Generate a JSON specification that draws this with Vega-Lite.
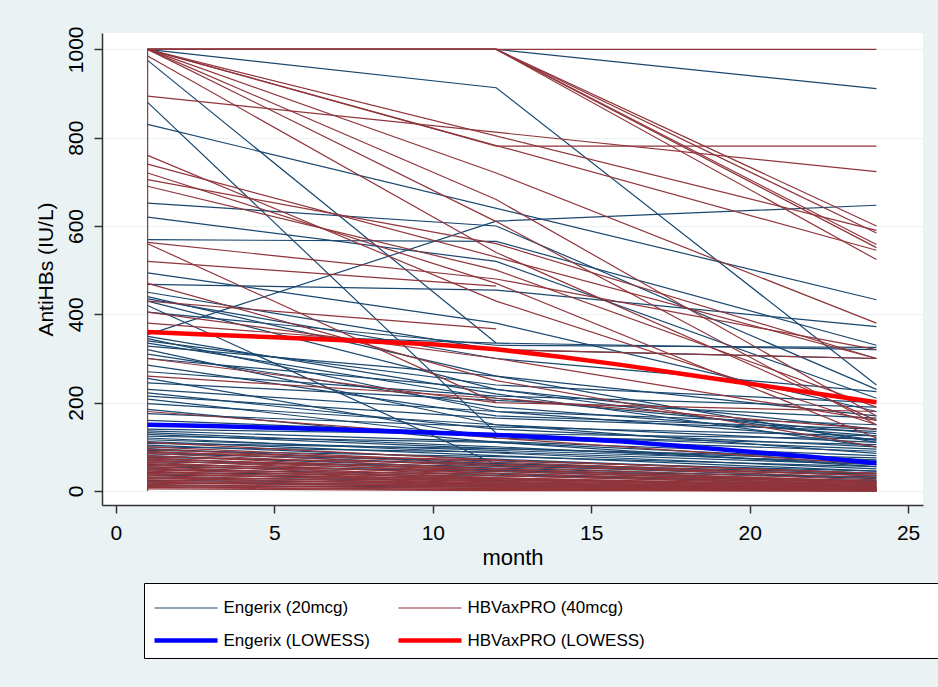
{
  "$schema": "https://vega.github.io/schema/vega-lite/v6.json",
  "width": 821,
  "height": 472,
  "autosize": {"type": "none"},
  "padding": {"left": 102, "top": 33, "right": 15, "bottom": 182},
  "background": "#EAF2F3",
  "config": {
    "font": "Liberation Sans",
    "view": {"fill": "white", "stroke": null}
  },
  "data": {"values": [
    {"s":"E1","g":"E","m":1,"v":1000},{"s":"E1","g":"E","m":12,"v":913},{"s":"E1","g":"E","m":24,"v":240},
    {"s":"E2","g":"E","m":1,"v":1000},{"s":"E2","g":"E","m":12,"v":1000},{"s":"E2","g":"E","m":24,"v":911},
    {"s":"E3","g":"E","m":1,"v":975},{"s":"E3","g":"E","m":12,"v":335},
    {"s":"E4","g":"E","m":1,"v":880},{"s":"E4","g":"E","m":12,"v":131},
    {"s":"E5","g":"E","m":1,"v":830},{"s":"E5","g":"E","m":24,"v":433},
    {"s":"E6","g":"E","m":1,"v":652},{"s":"E6","g":"E","m":12,"v":600},{"s":"E6","g":"E","m":24,"v":230},
    {"s":"E7","g":"E","m":1,"v":354},{"s":"E7","g":"E","m":12,"v":611},{"s":"E7","g":"E","m":24,"v":647},
    {"s":"E8","g":"E","m":1,"v":620},{"s":"E8","g":"E","m":12,"v":520},{"s":"E8","g":"E","m":24,"v":210},
    {"s":"E9","g":"E","m":1,"v":569},{"s":"E9","g":"E","m":12,"v":565},{"s":"E9","g":"E","m":24,"v":330},
    {"s":"E10","g":"E","m":1,"v":494},{"s":"E10","g":"E","m":12,"v":380},{"s":"E10","g":"E","m":24,"v":180},
    {"s":"E11","g":"E","m":1,"v":468},{"s":"E11","g":"E","m":12,"v":455},{"s":"E11","g":"E","m":24,"v":372},
    {"s":"E12","g":"E","m":1,"v":450},{"s":"E12","g":"E","m":12,"v":320},{"s":"E12","g":"E","m":24,"v":300},
    {"s":"E13","g":"E","m":1,"v":440},{"s":"E13","g":"E","m":12,"v":260},{"s":"E13","g":"E","m":24,"v":110},
    {"s":"E14","g":"E","m":1,"v":435},{"s":"E14","g":"E","m":12,"v":300},{"s":"E14","g":"E","m":24,"v":225},
    {"s":"E15","g":"E","m":1,"v":430},{"s":"E15","g":"E","m":12,"v":230},{"s":"E15","g":"E","m":24,"v":140},
    {"s":"E16","g":"E","m":1,"v":420},{"s":"E16","g":"E","m":12,"v":60},
    {"s":"E17","g":"E","m":1,"v":405},{"s":"E17","g":"E","m":12,"v":330},{"s":"E17","g":"E","m":24,"v":325},
    {"s":"E18","g":"E","m":1,"v":360},{"s":"E18","g":"E","m":12,"v":335},{"s":"E18","g":"E","m":24,"v":320},
    {"s":"E19","g":"E","m":1,"v":350},{"s":"E19","g":"E","m":12,"v":220},{"s":"E19","g":"E","m":24,"v":100},
    {"s":"E20","g":"E","m":1,"v":345},{"s":"E20","g":"E","m":12,"v":180},{"s":"E20","g":"E","m":24,"v":150},
    {"s":"E21","g":"E","m":1,"v":340},{"s":"E21","g":"E","m":12,"v":240},{"s":"E21","g":"E","m":24,"v":200},
    {"s":"E22","g":"E","m":1,"v":335},{"s":"E22","g":"E","m":12,"v":210},{"s":"E22","g":"E","m":24,"v":130},
    {"s":"E23","g":"E","m":1,"v":328},{"s":"E23","g":"E","m":12,"v":260},{"s":"E23","g":"E","m":24,"v":170},
    {"s":"E24","g":"E","m":1,"v":320},{"s":"E24","g":"E","m":12,"v":150},{"s":"E24","g":"E","m":24,"v":110},
    {"s":"E25","g":"E","m":1,"v":310},{"s":"E25","g":"E","m":12,"v":190},{"s":"E25","g":"E","m":24,"v":125},
    {"s":"E26","g":"E","m":1,"v":285},{"s":"E26","g":"E","m":12,"v":170},{"s":"E26","g":"E","m":24,"v":140},
    {"s":"E27","g":"E","m":1,"v":270},{"s":"E27","g":"E","m":12,"v":215},{"s":"E27","g":"E","m":24,"v":190},
    {"s":"E28","g":"E","m":1,"v":255},{"s":"E28","g":"E","m":12,"v":120},
    {"s":"E29","g":"E","m":1,"v":230},{"s":"E29","g":"E","m":12,"v":180},{"s":"E29","g":"E","m":24,"v":115},
    {"s":"E30","g":"E","m":1,"v":222},{"s":"E30","g":"E","m":12,"v":140},{"s":"E30","g":"E","m":24,"v":100},
    {"s":"E31","g":"E","m":1,"v":215},{"s":"E31","g":"E","m":12,"v":165},{"s":"E31","g":"E","m":24,"v":135},
    {"s":"E32","g":"E","m":1,"v":208},{"s":"E32","g":"E","m":12,"v":120},{"s":"E32","g":"E","m":24,"v":90},
    {"s":"E33","g":"E","m":1,"v":198},{"s":"E33","g":"E","m":12,"v":150},{"s":"E33","g":"E","m":24,"v":85},
    {"s":"E34","g":"E","m":1,"v":185},{"s":"E34","g":"E","m":12,"v":110},{"s":"E34","g":"E","m":24,"v":70},
    {"s":"E35","g":"E","m":1,"v":140},{"s":"E35","g":"E","m":12,"v":128},{"s":"E35","g":"E","m":24,"v":95},
    {"s":"E36","g":"E","m":1,"v":136},{"s":"E36","g":"E","m":12,"v":112},{"s":"E36","g":"E","m":24,"v":80},
    {"s":"E37","g":"E","m":1,"v":132},{"s":"E37","g":"E","m":12,"v":100},{"s":"E37","g":"E","m":24,"v":60},
    {"s":"E38","g":"E","m":1,"v":128},{"s":"E38","g":"E","m":12,"v":96},{"s":"E38","g":"E","m":24,"v":75},
    {"s":"E39","g":"E","m":1,"v":124},{"s":"E39","g":"E","m":12,"v":110},{"s":"E39","g":"E","m":24,"v":55},
    {"s":"E40","g":"E","m":1,"v":120},{"s":"E40","g":"E","m":12,"v":86},{"s":"E40","g":"E","m":24,"v":50},
    {"s":"E41","g":"E","m":1,"v":116},{"s":"E41","g":"E","m":12,"v":92},{"s":"E41","g":"E","m":24,"v":65},
    {"s":"E42","g":"E","m":1,"v":112},{"s":"E42","g":"E","m":12,"v":80},{"s":"E42","g":"E","m":24,"v":45},
    {"s":"E43","g":"E","m":1,"v":108},{"s":"E43","g":"E","m":12,"v":96},{"s":"E43","g":"E","m":24,"v":70},
    {"s":"E44","g":"E","m":1,"v":104},{"s":"E44","g":"E","m":12,"v":72},{"s":"E44","g":"E","m":24,"v":40},
    {"s":"E45","g":"E","m":1,"v":100},{"s":"E45","g":"E","m":12,"v":88},{"s":"E45","g":"E","m":24,"v":60},
    {"s":"E46","g":"E","m":1,"v":96},{"s":"E46","g":"E","m":12,"v":62},{"s":"E46","g":"E","m":24,"v":35},
    {"s":"E47","g":"E","m":1,"v":92},{"s":"E47","g":"E","m":12,"v":78},{"s":"E47","g":"E","m":24,"v":55},
    {"s":"E48","g":"E","m":1,"v":88},{"s":"E48","g":"E","m":12,"v":58},{"s":"E48","g":"E","m":24,"v":30},
    {"s":"E49","g":"E","m":1,"v":84},{"s":"E49","g":"E","m":12,"v":68},{"s":"E49","g":"E","m":24,"v":45},
    {"s":"E50","g":"E","m":1,"v":80},{"s":"E50","g":"E","m":12,"v":52},{"s":"E50","g":"E","m":24,"v":28},
    {"s":"E51","g":"E","m":1,"v":76},{"s":"E51","g":"E","m":12,"v":62},{"s":"E51","g":"E","m":24,"v":40},
    {"s":"E52","g":"E","m":1,"v":72},{"s":"E52","g":"E","m":12,"v":48},{"s":"E52","g":"E","m":24,"v":22},
    {"s":"E53","g":"E","m":1,"v":66},{"s":"E53","g":"E","m":12,"v":56},{"s":"E53","g":"E","m":24,"v":38},
    {"s":"E54","g":"E","m":1,"v":60},{"s":"E54","g":"E","m":12,"v":44},{"s":"E54","g":"E","m":24,"v":20},
    {"s":"E55","g":"E","m":1,"v":54},{"s":"E55","g":"E","m":12,"v":46},{"s":"E55","g":"E","m":24,"v":32},
    {"s":"E56","g":"E","m":1,"v":48},{"s":"E56","g":"E","m":12,"v":38},{"s":"E56","g":"E","m":24,"v":15},
    {"s":"E57","g":"E","m":1,"v":42},{"s":"E57","g":"E","m":12,"v":34},{"s":"E57","g":"E","m":24,"v":24},
    {"s":"E58","g":"E","m":1,"v":36},{"s":"E58","g":"E","m":12,"v":28},{"s":"E58","g":"E","m":24,"v":10},
    {"s":"E59","g":"E","m":1,"v":30},{"s":"E59","g":"E","m":12,"v":24},{"s":"E59","g":"E","m":24,"v":16},
    {"s":"E60","g":"E","m":1,"v":24},{"s":"E60","g":"E","m":12,"v":18},{"s":"E60","g":"E","m":24,"v":6},
    {"s":"E61","g":"E","m":1,"v":18},{"s":"E61","g":"E","m":12,"v":14},{"s":"E61","g":"E","m":24,"v":8},
    {"s":"E62","g":"E","m":1,"v":12},{"s":"E62","g":"E","m":12,"v":9},{"s":"E62","g":"E","m":24,"v":3},
    {"s":"E63","g":"E","m":1,"v":160},{"s":"E63","g":"E","m":12,"v":130},{"s":"E63","g":"E","m":24,"v":118},
    {"s":"E64","g":"E","m":1,"v":150},{"s":"E64","g":"E","m":12,"v":125},{"s":"E64","g":"E","m":24,"v":105},
    {"s":"E65","g":"E","m":1,"v":175},{"s":"E65","g":"E","m":12,"v":145},{"s":"E65","g":"E","m":24,"v":125},
    {"s":"E66","g":"E","m":1,"v":245},{"s":"E66","g":"E","m":12,"v":205},{"s":"E66","g":"E","m":24,"v":165},
    {"s":"E67","g":"E","m":1,"v":300},{"s":"E67","g":"E","m":12,"v":230},{"s":"E67","g":"E","m":24,"v":115},

    {"s":"H1","g":"H","m":1,"v":1000},{"s":"H1","g":"H","m":12,"v":1000},{"s":"H1","g":"H","m":24,"v":1000},
    {"s":"H2","g":"H","m":1,"v":1000},{"s":"H2","g":"H","m":12,"v":781},{"s":"H2","g":"H","m":24,"v":781},
    {"s":"H3","g":"H","m":1,"v":1000},{"s":"H3","g":"H","m":12,"v":1000},{"s":"H3","g":"H","m":24,"v":600},
    {"s":"H4","g":"H","m":1,"v":1000},{"s":"H4","g":"H","m":12,"v":1000},{"s":"H4","g":"H","m":24,"v":584},
    {"s":"H5","g":"H","m":1,"v":1000},{"s":"H5","g":"H","m":12,"v":1000},{"s":"H5","g":"H","m":24,"v":558},
    {"s":"H6","g":"H","m":1,"v":1000},{"s":"H6","g":"H","m":12,"v":1000},{"s":"H6","g":"H","m":24,"v":551},
    {"s":"H7","g":"H","m":1,"v":1000},{"s":"H7","g":"H","m":12,"v":1000},{"s":"H7","g":"H","m":24,"v":524},
    {"s":"H8","g":"H","m":1,"v":894},{"s":"H8","g":"H","m":24,"v":723},
    {"s":"H9","g":"H","m":1,"v":1000},{"s":"H9","g":"H","m":24,"v":590},
    {"s":"H10","g":"H","m":1,"v":1000},{"s":"H10","g":"H","m":24,"v":545},
    {"s":"H11","g":"H","m":1,"v":1000},{"s":"H11","g":"H","m":12,"v":720},{"s":"H11","g":"H","m":24,"v":380},
    {"s":"H12","g":"H","m":1,"v":1000},{"s":"H12","g":"H","m":12,"v":660},{"s":"H12","g":"H","m":24,"v":170},
    {"s":"H13","g":"H","m":1,"v":1000},{"s":"H13","g":"H","m":12,"v":610},{"s":"H13","g":"H","m":24,"v":150},
    {"s":"H14","g":"H","m":1,"v":985},{"s":"H14","g":"H","m":12,"v":540},{"s":"H14","g":"H","m":24,"v":160},
    {"s":"H15","g":"H","m":1,"v":760},{"s":"H15","g":"H","m":12,"v":430},{"s":"H15","g":"H","m":24,"v":150},
    {"s":"H16","g":"H","m":1,"v":740},{"s":"H16","g":"H","m":24,"v":300},
    {"s":"H17","g":"H","m":1,"v":720},{"s":"H17","g":"H","m":12,"v":470},{"s":"H17","g":"H","m":24,"v":120},
    {"s":"H18","g":"H","m":1,"v":705},{"s":"H18","g":"H","m":12,"v":560},{"s":"H18","g":"H","m":24,"v":300},
    {"s":"H19","g":"H","m":1,"v":690},{"s":"H19","g":"H","m":12,"v":500},{"s":"H19","g":"H","m":24,"v":190},
    {"s":"H20","g":"H","m":1,"v":563},{"s":"H20","g":"H","m":12,"v":480},{"s":"H20","g":"H","m":24,"v":320},
    {"s":"H21","g":"H","m":1,"v":560},{"s":"H21","g":"H","m":12,"v":200},
    {"s":"H22","g":"H","m":1,"v":520},{"s":"H22","g":"H","m":12,"v":464},
    {"s":"H23","g":"H","m":1,"v":430},{"s":"H23","g":"H","m":12,"v":367},
    {"s":"H24","g":"H","m":1,"v":405},{"s":"H24","g":"H","m":12,"v":300},{"s":"H24","g":"H","m":24,"v":160},
    {"s":"H25","g":"H","m":1,"v":470},{"s":"H25","g":"H","m":12,"v":250},{"s":"H25","g":"H","m":24,"v":100},
    {"s":"H26","g":"H","m":1,"v":380},{"s":"H26","g":"H","m":12,"v":320},{"s":"H26","g":"H","m":24,"v":300},
    {"s":"H27","g":"H","m":1,"v":300},{"s":"H27","g":"H","m":12,"v":200},{"s":"H27","g":"H","m":24,"v":180},
    {"s":"H28","g":"H","m":1,"v":260},{"s":"H28","g":"H","m":12,"v":210},{"s":"H28","g":"H","m":24,"v":140},
    {"s":"H29","g":"H","m":1,"v":180},{"s":"H29","g":"H","m":12,"v":120},{"s":"H29","g":"H","m":24,"v":60},
    {"s":"H30","g":"H","m":1,"v":0},{"s":"H30","g":"H","m":1,"v":1000},
    {"s":"H31","g":"H","m":1,"v":110},{"s":"H31","g":"H","m":12,"v":70},{"s":"H31","g":"H","m":24,"v":40},
    {"s":"H32","g":"H","m":1,"v":100},{"s":"H32","g":"H","m":12,"v":65},{"s":"H32","g":"H","m":24,"v":35},
    {"s":"H33","g":"H","m":1,"v":95},{"s":"H33","g":"H","m":12,"v":60},{"s":"H33","g":"H","m":24,"v":30},
    {"s":"H34","g":"H","m":1,"v":90},{"s":"H34","g":"H","m":12,"v":55},{"s":"H34","g":"H","m":24,"v":25},
    {"s":"H35","g":"H","m":1,"v":88},{"s":"H35","g":"H","m":12,"v":70},{"s":"H35","g":"H","m":24,"v":40},
    {"s":"H36","g":"H","m":1,"v":85},{"s":"H36","g":"H","m":12,"v":50},{"s":"H36","g":"H","m":24,"v":20},
    {"s":"H37","g":"H","m":1,"v":80},{"s":"H37","g":"H","m":12,"v":45},{"s":"H37","g":"H","m":24,"v":18},
    {"s":"H38","g":"H","m":1,"v":78},{"s":"H38","g":"H","m":12,"v":60},{"s":"H38","g":"H","m":24,"v":35},
    {"s":"H39","g":"H","m":1,"v":75},{"s":"H39","g":"H","m":12,"v":40},{"s":"H39","g":"H","m":24,"v":15},
    {"s":"H40","g":"H","m":1,"v":72},{"s":"H40","g":"H","m":12,"v":50},{"s":"H40","g":"H","m":24,"v":22},
    {"s":"H41","g":"H","m":1,"v":70},{"s":"H41","g":"H","m":12,"v":35},{"s":"H41","g":"H","m":24,"v":12},
    {"s":"H42","g":"H","m":1,"v":68},{"s":"H42","g":"H","m":12,"v":45},{"s":"H42","g":"H","m":24,"v":20},
    {"s":"H43","g":"H","m":1,"v":65},{"s":"H43","g":"H","m":12,"v":30},{"s":"H43","g":"H","m":24,"v":10},
    {"s":"H44","g":"H","m":1,"v":62},{"s":"H44","g":"H","m":12,"v":40},{"s":"H44","g":"H","m":24,"v":18},
    {"s":"H45","g":"H","m":1,"v":60},{"s":"H45","g":"H","m":12,"v":28},{"s":"H45","g":"H","m":24,"v":8},
    {"s":"H46","g":"H","m":1,"v":58},{"s":"H46","g":"H","m":12,"v":35},{"s":"H46","g":"H","m":24,"v":15},
    {"s":"H47","g":"H","m":1,"v":55},{"s":"H47","g":"H","m":12,"v":25},{"s":"H47","g":"H","m":24,"v":6},
    {"s":"H48","g":"H","m":1,"v":52},{"s":"H48","g":"H","m":12,"v":30},{"s":"H48","g":"H","m":24,"v":12},
    {"s":"H49","g":"H","m":1,"v":50},{"s":"H49","g":"H","m":12,"v":22},{"s":"H49","g":"H","m":24,"v":5},
    {"s":"H50","g":"H","m":1,"v":48},{"s":"H50","g":"H","m":12,"v":28},{"s":"H50","g":"H","m":24,"v":10},
    {"s":"H51","g":"H","m":1,"v":45},{"s":"H51","g":"H","m":12,"v":20},{"s":"H51","g":"H","m":24,"v":4},
    {"s":"H52","g":"H","m":1,"v":42},{"s":"H52","g":"H","m":12,"v":25},{"s":"H52","g":"H","m":24,"v":8},
    {"s":"H53","g":"H","m":1,"v":40},{"s":"H53","g":"H","m":12,"v":18},{"s":"H53","g":"H","m":24,"v":3},
    {"s":"H54","g":"H","m":1,"v":38},{"s":"H54","g":"H","m":12,"v":22},{"s":"H54","g":"H","m":24,"v":6},
    {"s":"H55","g":"H","m":1,"v":35},{"s":"H55","g":"H","m":12,"v":15},{"s":"H55","g":"H","m":24,"v":2},
    {"s":"H56","g":"H","m":1,"v":32},{"s":"H56","g":"H","m":12,"v":18},{"s":"H56","g":"H","m":24,"v":5},
    {"s":"H57","g":"H","m":1,"v":30},{"s":"H57","g":"H","m":12,"v":12},{"s":"H57","g":"H","m":24,"v":2},
    {"s":"H58","g":"H","m":1,"v":28},{"s":"H58","g":"H","m":12,"v":15},{"s":"H58","g":"H","m":24,"v":4},
    {"s":"H59","g":"H","m":1,"v":25},{"s":"H59","g":"H","m":12,"v":10},{"s":"H59","g":"H","m":24,"v":1},
    {"s":"H60","g":"H","m":1,"v":22},{"s":"H60","g":"H","m":12,"v":12},{"s":"H60","g":"H","m":24,"v":3},
    {"s":"H61","g":"H","m":1,"v":20},{"s":"H61","g":"H","m":12,"v":8},{"s":"H61","g":"H","m":24,"v":1},
    {"s":"H62","g":"H","m":1,"v":18},{"s":"H62","g":"H","m":12,"v":10},{"s":"H62","g":"H","m":24,"v":2},
    {"s":"H63","g":"H","m":1,"v":15},{"s":"H63","g":"H","m":12,"v":5},{"s":"H63","g":"H","m":24,"v":0},
    {"s":"H64","g":"H","m":1,"v":12},{"s":"H64","g":"H","m":12,"v":6},{"s":"H64","g":"H","m":24,"v":1},
    {"s":"H65","g":"H","m":1,"v":10},{"s":"H65","g":"H","m":12,"v":3},{"s":"H65","g":"H","m":24,"v":0},
    {"s":"H66","g":"H","m":1,"v":8},{"s":"H66","g":"H","m":12,"v":2},{"s":"H66","g":"H","m":24,"v":0},
    {"s":"H67","g":"H","m":1,"v":5},{"s":"H67","g":"H","m":12,"v":1},{"s":"H67","g":"H","m":24,"v":0},

    {"s":"EL","g":"EL","m":1,"v":150},{"s":"EL","g":"EL","m":3,"v":147},{"s":"EL","g":"EL","m":5,"v":143},
    {"s":"EL","g":"EL","m":7,"v":139},{"s":"EL","g":"EL","m":10,"v":132},{"s":"EL","g":"EL","m":12,"v":127},
    {"s":"EL","g":"EL","m":14,"v":120},{"s":"EL","g":"EL","m":16,"v":112},{"s":"EL","g":"EL","m":18,"v":101},
    {"s":"EL","g":"EL","m":20,"v":89},{"s":"EL","g":"EL","m":22,"v":77},{"s":"EL","g":"EL","m":24,"v":63},
    {"s":"HL","g":"HL","m":1,"v":360},{"s":"HL","g":"HL","m":3,"v":354},{"s":"HL","g":"HL","m":5,"v":348},
    {"s":"HL","g":"HL","m":7,"v":342},{"s":"HL","g":"HL","m":10,"v":332},{"s":"HL","g":"HL","m":12,"v":321},
    {"s":"HL","g":"HL","m":14,"v":304},{"s":"HL","g":"HL","m":16,"v":285},{"s":"HL","g":"HL","m":18,"v":264},
    {"s":"HL","g":"HL","m":20,"v":243},{"s":"HL","g":"HL","m":22,"v":222},{"s":"HL","g":"HL","m":24,"v":201}
  ]},
  "encoding": {
    "x": {"field": "m", "type": "quantitative",
      "scale": {"domain": [-0.44, 25.47], "nice": false, "zero": false},
      "axis": {"title": "month", "values": [0, 5, 10, 15, 20, 25], "grid": false,
        "tickSize": 8, "tickColor": "#333", "domainColor": "#333", "domainWidth": 1.5, "tickWidth": 1.5,
        "labelFontSize": 21, "labelColor": "#000", "labelPadding": 9,
        "titleFontSize": 22, "titleFontWeight": "normal", "titleColor": "#000", "titlePadding": 4}},
    "y": {"field": "v", "type": "quantitative",
      "scale": {"domain": [-31.7, 1037], "nice": false, "zero": false},
      "axis": {"title": "AntiHBs (IU/L)", "values": [0, 200, 400, 600, 800, 1000], "format": "d", "grid": true,
        "gridColor": "#EAF2F3", "gridWidth": 1.2,
        "tickSize": 8, "tickColor": "#333", "domainColor": "#333", "domainWidth": 1.5, "tickWidth": 1.5,
        "labelAngle": -90, "labelAlign": "center", "labelBaseline": "bottom",
        "labelFontSize": 21, "labelColor": "#000", "labelPadding": 8,
        "titleFontSize": 21, "titleFontWeight": "normal", "titleColor": "#000", "titlePadding": 9}},
    "color": {"field": "g", "type": "nominal",
      "scale": {"domain": ["E", "H", "EL", "HL"], "range": ["#1A476F", "#90353B", "#0000FF", "#FF0000"]},
      "legend": {"title": null, "orient": "none", "legendX": 42, "legendY": 550,
        "columns": 2, "direction": "horizontal", "columnPadding": 19, "rowPadding": 6,
        "symbolType": "M-1.97,0H1.97", "symbolSize": 1024, "symbolOffset": 15.5, "labelOffset": 19,
        "labelFontSize": 17, "labelColor": "#000", "labelLimit": 800,
        "fillColor": "white", "strokeColor": "#000", "padding": 8,
        "labelExpr": "datum.label == 'E' ? 'Engerix (20mcg)' : datum.label == 'H' ? 'HBVaxPRO (40mcg)' : datum.label == 'EL' ? 'Engerix (LOWESS)' : 'HBVaxPRO (LOWESS)\u00a0\u00a0\u00a0\u00a0\u00a0\u00a0\u00a0\u00a0\u00a0\u00a0\u00a0\u00a0\u00a0\u00a0\u00a0\u00a0\u00a0\u00a0\u00a0\u00a0\u00a0\u00a0\u00a0\u00a0\u00a0\u00a0\u00a0\u00a0\u00a0\u00a0\u00a0\u00a0\u00a0\u00a0\u00a0\u00a0\u00a0\u00a0\u00a0\u00a0\u00a0\u00a0\u00a0\u00a0\u00a0\u00a0\u00a0\u00a0\u00a0\u00a0\u00a0\u00a0\u00a0\u00a0\u00a0\u00a0\u00a0\u00a0\u00a0\u00a0\u00a0\u00a0\u00a0\u00a0\u00a0\u00a0\u200b'"}},
    "strokeWidth": {"field": "g", "type": "nominal",
      "scale": {"type": "ordinal", "domain": ["E", "H", "EL", "HL"], "range": [1.2, 1.2, 4.5, 4.5]},
      "legend": {"title": null}},
    "detail": {"field": "s"}
  },
  "layer": [
    {"transform": [{"filter": "datum.g == 'E'"}], "mark": {"type": "line"}},
    {"transform": [{"filter": "datum.g == 'H'"}], "mark": {"type": "line"}},
    {"transform": [{"filter": "datum.g == 'EL' || datum.g == 'HL'"}], "mark": {"type": "line"}}
  ]
}
